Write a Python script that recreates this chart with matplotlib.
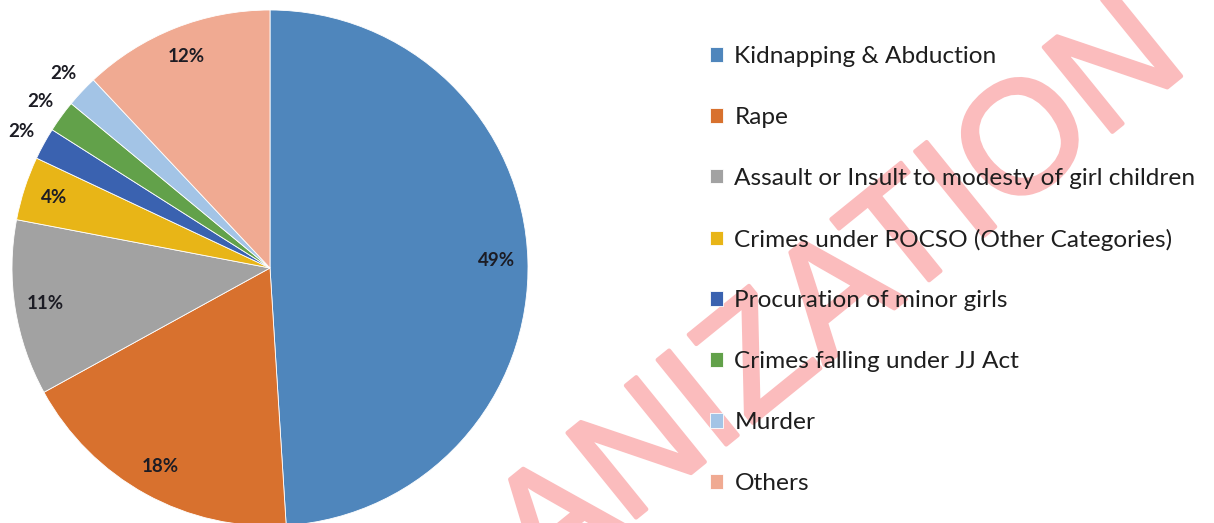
import matplotlib.pyplot as plt
import matplotlib.patheffects as pe
import numpy as np

categories = [
    "Kidnapping & Abduction",
    "Rape",
    "Assault or Insult to modesty of girl children",
    "Crimes under POCSO (Other Categories)",
    "Procuration of minor girls",
    "Crimes falling under JJ Act",
    "Murder",
    "Others",
]
shares = [49, 18, 11, 4, 2, 2, 2, 12]
colors = ["#4f86bc", "#d8712e", "#a2a2a2", "#e8b517", "#3a62b0", "#62a14a", "#a3c4e6", "#f0aa92"]

W, H = 1214, 523
fig = plt.figure(figsize=(W / 100, H / 100), dpi=100)

# pie centred at (270, 268) px with a 258 px radius
cx, cy, r = 270, 268, 258
ax = fig.add_axes([(cx - r) / W, (H - cy - r) / H, 2 * r / W, 2 * r / H])
wedges, _ = ax.pie(
    shares,
    colors=colors,
    startangle=90,
    counterclock=False,
    radius=1.0,
    wedgeprops=dict(edgecolor="white", linewidth=0.6),
)
ax.set_xlim(-1, 1)
ax.set_ylim(-1, 1)
ax.set_aspect("equal")
ax.axis("off")

# percentage labels: inside for big slices, just outside for the thin ones
for w, v in zip(wedges, shares):
    mid = np.deg2rad((w.theta1 + w.theta2) / 2)
    dist = 1.1 if v < 3 else 0.88
    ax.text(dist * np.cos(mid), dist * np.sin(mid), f"{v}%",
            ha="center", va="center", fontsize=13.5, fontweight="bold",
            family="Lato", color="#1c1c24")

leg = fig.legend(
    wedges, categories,
    loc="upper left", bbox_to_anchor=(688 / W, 1 - 24 / H),
    frameon=False, prop=dict(family="Lato", size=17.6),
    handlelength=0.55, handleheight=0.55, handletextpad=0.45,
    labelspacing=1.63, labelcolor="#1e1e1e",
)
leg.set_zorder(5)

# diagonal watermark, kept under the legend text
wm = fig.text(702 / W, 1 - 412 / H, "ORGANIZATION", rotation=39,
              rotation_mode="anchor", ha="center", va="center",
              fontsize=114, family="Liberation Sans", color="#fbbcbd",
              zorder=2)
wm.set_path_effects([pe.Stroke(linewidth=3, foreground="#fbbcbd"), pe.Normal()])

fig.savefig("out.png", dpi=100)
